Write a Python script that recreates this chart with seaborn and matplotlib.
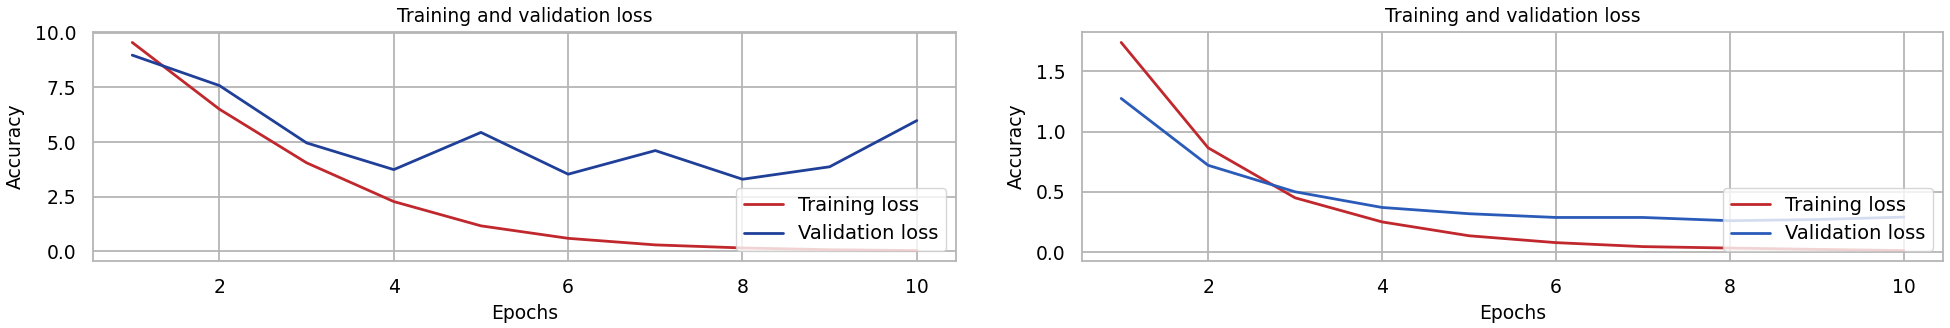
import matplotlib
matplotlib.use('Agg')
import matplotlib.pyplot as plt
import seaborn as sns
import pandas as pd

# 数据
epochs = [1, 2, 3, 4, 5, 6, 7, 8, 9, 10]

train_loss_a = [9.55, 6.5, 4.05, 2.28, 1.17, 0.6, 0.3, 0.16, 0.08, 0.04]
val_loss_a = [8.97, 7.58, 4.96, 3.74, 5.44, 3.53, 4.61, 3.3, 3.87, 5.98]

train_loss_b = [1.74, 0.865, 0.45, 0.25, 0.135, 0.078, 0.045, 0.033, 0.022, 0.012]
val_loss_b = [1.275, 0.72, 0.5, 0.37, 0.318, 0.287, 0.287, 0.26, 0.27, 0.29]

sns.set_theme(style='whitegrid')
plt.rcParams['font.family'] = ['DejaVu Sans']
plt.rcParams['axes.edgecolor'] = '#b5b5b5'
plt.rcParams['grid.color'] = '#b5b5b5'
plt.rcParams['axes.linewidth'] = 1.3
plt.rcParams['grid.linewidth'] = 1.3
plt.rcParams['text.color'] = 'black'
plt.rcParams['axes.labelcolor'] = 'black'
plt.rcParams['xtick.color'] = 'black'
plt.rcParams['ytick.color'] = 'black'

fig = plt.figure(figsize=(19.5, 3.28), dpi=100)
ax1 = fig.add_axes([0.0477, 0.2043, 0.4426, 0.698])
ax2 = fig.add_axes([0.5549, 0.2043, 0.4415, 0.698])


def draw(ax, train, val, val_color):
    df = pd.DataFrame({'Epochs': epochs, 'Training loss': train, 'Validation loss': val})
    sns.lineplot(data=df, x='Epochs', y='Training loss', ax=ax, color='#c0282d',
                 linewidth=2.0, label='Training loss')
    sns.lineplot(data=df, x='Epochs', y='Validation loss', ax=ax, color=val_color,
                 linewidth=2.0, label='Validation loss')
    ax.set_title('Training and validation loss', fontsize=13.5, pad=7)
    ax.set_xlabel('Epochs', fontsize=13.5, labelpad=5)
    ax.set_ylabel('Accuracy', fontsize=13.5, labelpad=7)
    ax.set_xticks([2, 4, 6, 8, 10])
    ax.tick_params(axis='both', labelsize=13.5, pad=6)
    ax.legend(loc='lower right', fontsize=14, framealpha=0.8, borderaxespad=0.5)


draw(ax1, train_loss_a, val_loss_a, '#1f3f98')
draw(ax2, train_loss_b, val_loss_b, '#2b5bb8')
ax1.set_yticks([0.0, 2.5, 5.0, 7.5, 10.0])
ax2.set_yticks([0.0, 0.5, 1.0, 1.5])

fig.savefig('out.png', dpi=100)
